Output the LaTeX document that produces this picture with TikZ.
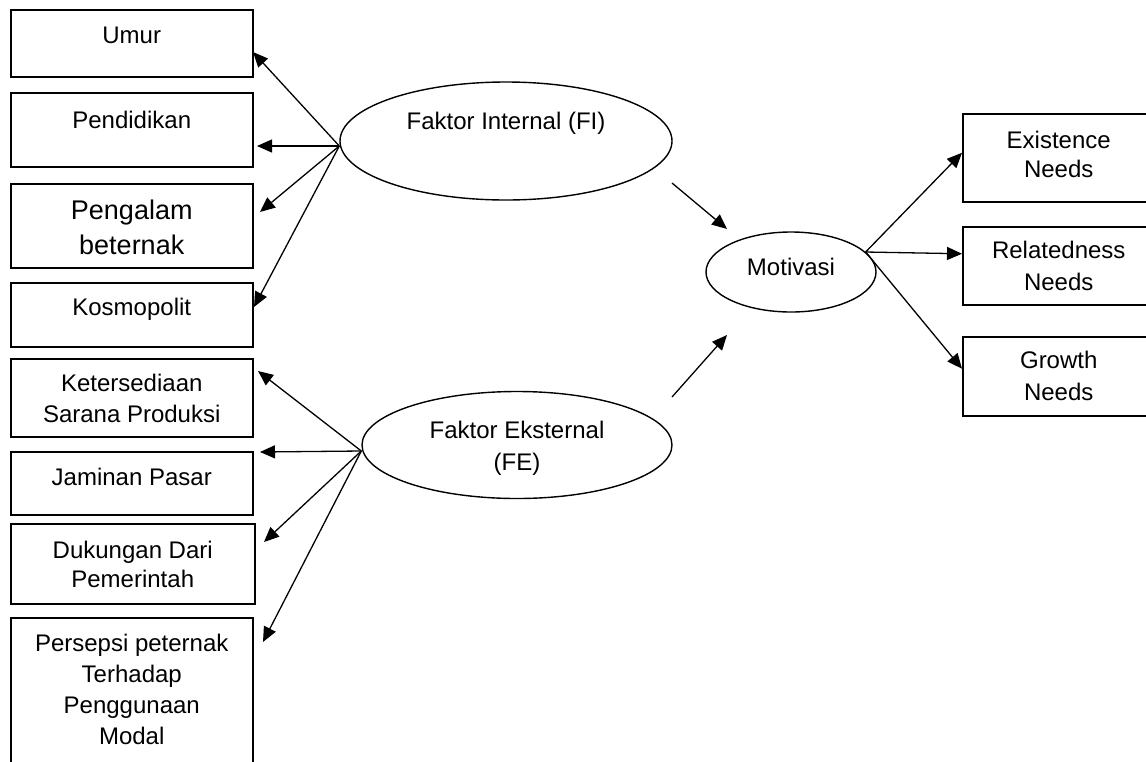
\documentclass[tikz,border=0pt]{standalone}
\usepackage{fontspec}
\setmainfont{Liberation Sans}
\usetikzlibrary{arrows.meta}
\usetikzlibrary{shapes.geometric}

\begin{document}
\begin{tikzpicture}[x=0.5pt, y=-0.5pt,
        faktor/.style={rectangle, draw, line width=0.75pt, anchor=north west, inner sep=0pt, minimum width=121pt, align=center, font=\fontsize{12}{15.5}\selectfont},
        need/.style={faktor, minimum width=96pt},
        latent/.style={ellipse, draw, line width=0.7pt, inner sep=0pt, align=center, font=\fontsize{12}{16}\selectfont},
        arrow/.style={-{Triangle[length=7.5pt,width=6.5pt]}, line width=0.65pt, black},
    ]
    \useasboundingbox (0,0) rectangle (1146,761);
    % indikator faktor internal dan eksternal
    \node[faktor, text height=17pt, text depth=16.5pt] (umur) at (10,9) {Umur};
    \node[faktor, text height=18pt, text depth=19pt] (didik) at (10,92) {Pendidikan};
    \node[faktor, text height=35.5pt, text depth=6.5pt, font=\fontsize{13.5}{17.5}\selectfont] (alam) at (10,183) {Pengalam\\beternak};
    \node[faktor, text height=16.5pt, text depth=15.5pt] (kosmo) at (10,282) {Kosmopolit};
    \node[faktor, text height=32pt, text depth=7pt] (sarana) at (10,358) {Ketersediaan\\Sarana Produksi};
    \node[faktor, text height=17pt, text depth=14.5pt] (pasar) at (10,451) {Jaminan Pasar};
    \node[faktor, minimum width=122pt, text height=32pt, text depth=8pt, font=\fontsize{12}{14.5}\selectfont] (pemda) at (10,523) {Dukungan Dari\\Pemerintah};
    \node[faktor, text height=63.5pt, text depth=13.5pt] (modal) at (10,617) {Persepsi peternak\\Terhadap\\Penggunaan\\Modal};
    % variabel laten
    \node[latent, minimum width=166pt, minimum height=59pt, text height=10pt, text depth=22pt] (fi) at (506,141) {Faktor Internal (FI)};
    \node[latent, minimum width=155pt, minimum height=53.5pt, text height=28pt, text depth=3pt] (fe) at (517,445) {Faktor Eksternal\\(FE)};
    \node[latent, minimum width=85pt, minimum height=40pt, text height=9pt, text depth=6pt] (mot) at (791,272) {Motivasi};
    % kebutuhan ERG
    \node[need, text height=32pt, text depth=12pt, font=\fontsize{12}{14.5}\selectfont] (exist) at (962,113) {Existence\\Needs};
    \node[need, text height=32pt, text depth=7pt, font=\fontsize{12}{16}\selectfont] (relate) at (962,226) {Relatedness\\Needs};
    \node[need, text height=32pt, text depth=7.5pt, font=\fontsize{12}{16}\selectfont] (growth) at (962,336) {Growth\\Needs};
    % ujung panah bebas
    \coordinate (tUmur) at (253,52);
    \coordinate (tDidik) at (257,146);
    \coordinate (tAlam) at (260,212);
    \coordinate (tKosmo) at (254,307);
    \coordinate (tSarana) at (258,371);
    \coordinate (tPasar) at (260,452);
    \coordinate (tPemda) at (264,542);
    \coordinate (tModal) at (263,642);
    \coordinate (fiOut) at (672,183);
    \coordinate (fiIn) at (727,229);
    \coordinate (feOut) at (672,397);
    \coordinate (feIn) at (727,335);
    \draw[arrow] ([yshift=-2.5pt]fi.west) -- (tUmur);
    \draw[arrow] ([yshift=-2.5pt]fi.west) -- (tDidik);
    \draw[arrow] ([yshift=-2.5pt]fi.west) -- (tAlam);
    \draw[arrow] ([yshift=-2.5pt]fi.west) -- (tKosmo);
    \draw[arrow] ([yshift=-3pt]fe.west) -- (tSarana);
    \draw[arrow] ([yshift=-3pt]fe.west) -- (tPasar);
    \draw[arrow] ([yshift=-3pt]fe.west) -- (tPemda);
    \draw[arrow] ([yshift=-3pt]fe.west) -- (tModal);
    \draw[arrow] (fiOut) -- (fiIn);
    \draw[arrow] (feOut) -- (feIn);
    \draw[arrow] (mot.15) -- ([yshift=2.5pt]exist.west);
    \draw[arrow] (mot.15) -- ([yshift=6pt]relate.west);
    \draw[arrow] (mot.15) -- ([yshift=3.75pt]growth.west);
\end{tikzpicture}
\end{document}
